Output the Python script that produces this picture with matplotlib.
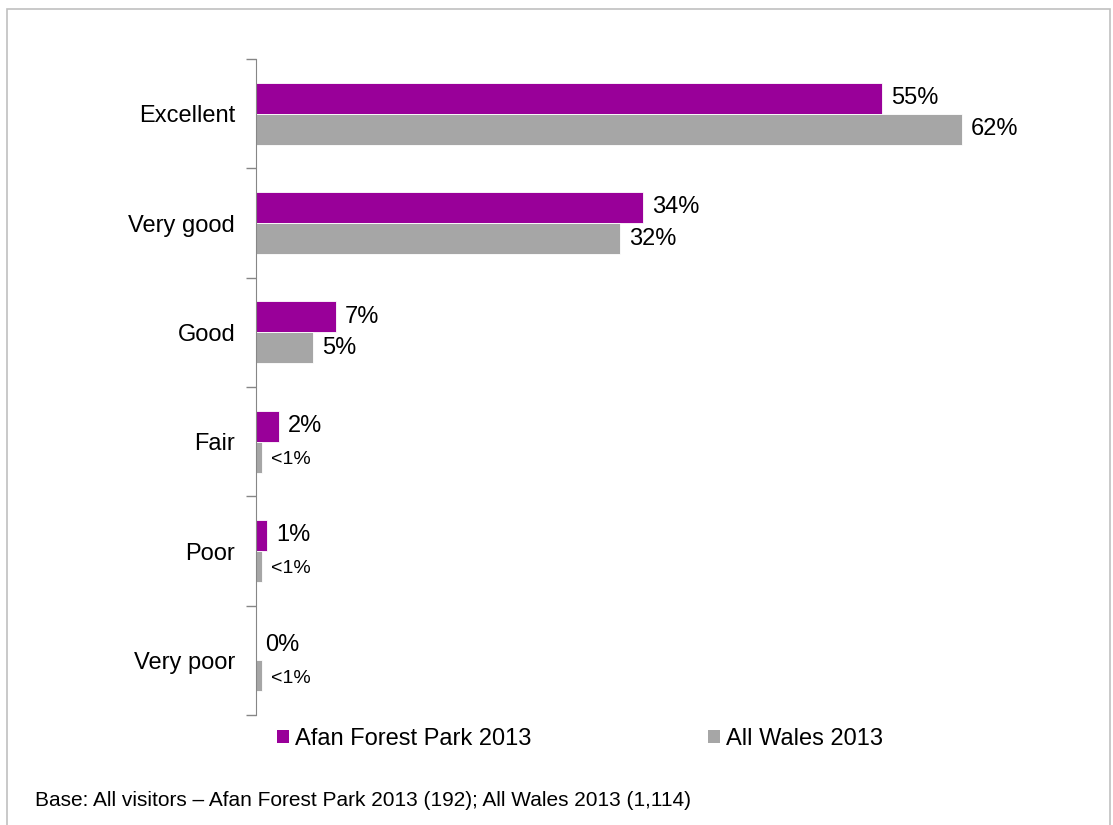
import matplotlib.pyplot as plt
from matplotlib.patches import Patch, Rectangle

plt.rcParams['font.family'] = ['Liberation Sans', 'DejaVu Sans']

categories = ["Excellent", "Very good", "Good", "Fair", "Poor", "Very poor"]
afan = [55, 34, 7, 2, 1, 0]
wales = [62, 32, 5, 0.5, 0.5, 0.5]
afan_labels = ["55%", "34%", "7%", "2%", "1%", "0%"]
wales_labels = ["62%", "32%", "5%", "<1%", "<1%", "<1%"]
series_names = ["Afan Forest Park 2013", "All Wales 2013"]

purple = "#990099"
grey = "#a6a6a6"

fig = plt.figure(figsize=(11.13, 8.25), dpi=100)
W, H = 1113, 825
ax = fig.add_axes([256 / W, 1 - 715 / H, (1100 - 256) / W, (715 - 59) / H])

# outer frame (bottom edge falls off the image, as in the original)
fig.patches.append(Rectangle((7 / W, 1 - 835 / H), (1110 - 7) / W, (835 - 9) / H,
                             transform=fig.transFigure, fill=False,
                             edgecolor="#c0c0c0", linewidth=1.2))

y = list(range(len(categories)))
h = 0.285
ax.barh([i - h / 2 for i in y], afan, height=h, color=purple, edgecolor="white", linewidth=0.6)
ax.barh([i + h / 2 for i in y], wales, height=h, color=grey, edgecolor="white", linewidth=0.6)

ax.set_xlim(0, (1100 - 256) / 11.39)
ax.set_ylim(len(categories) - 0.5, -0.5)

off = 9 / 11.39
for i in y:
    ax.text(afan[i] + off, i - h / 2, afan_labels[i], va="center", ha="left", fontsize=17)
    small = wales_labels[i].startswith("<")
    ax.text(wales[i] + off, i + h / 2 + (0.02 if small else 0), wales_labels[i], va="center",
            ha="left", fontsize=14 if small else 17)

ax.set_yticks(y)
ax.set_yticklabels(categories, fontsize=17)
ax.set_yticks([i - 0.5 for i in range(len(categories) + 1)], minor=True)
ax.tick_params(axis="y", which="major", length=0, pad=15)
ax.tick_params(axis="y", which="minor", length=7, color="#868686", width=1)
ax.set_xticks([])
for s in ["top", "right", "bottom"]:
    ax.spines[s].set_visible(False)
ax.spines["left"].set_color("#868686")

handles = [Patch(facecolor=purple), Patch(facecolor=grey)]
fig.legend(handles, series_names, loc="center left", bbox_to_anchor=(277 / W, 1 - 739 / H),
           ncol=2, frameon=False, fontsize=17, handlelength=0.5, handleheight=0.5,
           handletextpad=0.25, columnspacing=7.5, borderpad=0, borderaxespad=0)

fig.text(35 / W, 1 - 800 / H,
         "Base: All visitors \u2013 Afan Forest Park 2013 (192); All Wales 2013 (1,114)",
         fontsize=15, va="center", ha="left")

fig.savefig("out.png", dpi=100)
